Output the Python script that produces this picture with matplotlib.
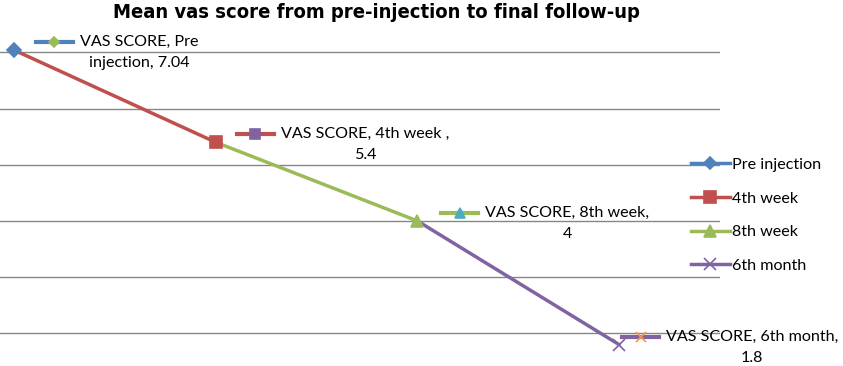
import numpy as np
import matplotlib
matplotlib.use("Agg")
import matplotlib.pyplot as plt
from matplotlib.lines import Line2D
from matplotlib.transforms import IdentityTransform

# ── DATA ──────────────────────────────────────────────────────────────────────
categories = ["Pre injection", "4th week", "8th week", "6th month"]
vas_scores = [7.04, 5.4, 4.0, 1.8]
label_line1 = ["VAS SCORE, Pre", "VAS SCORE, 4th week ,", "VAS SCORE, 8th week,", "VAS SCORE, 6th month,"]
label_line2 = ["injection, 7.04", "5.4", "4", "1.8"]
grid_levels = [2, 3, 4, 5, 6, 7]
title = "Mean vas score from pre-injection to final follow-up"

# ── STYLE ─────────────────────────────────────────────────────────────────────
colors = ["#4F81BD", "#C0504D", "#9BBB59", "#8064A2"]
markers = ["D", "s", "^", "x"]
msizes = [7.5, 9, 9, 9]
# Excel quirk: data-label keys show a different marker colour
key_marker_colors = ["#9BBB59", "#8064A2", "#4BACC6", "#F79646"]
key_dx = [22, 21, 24, 3]          # px from point to start of label key
LABEL_FONT = ["Lato", "DejaVu Sans"]

fig = plt.figure(figsize=(8.43, 3.66), dpi=100)
ax = fig.add_axes([0, 0, 720 / 843, 1])
xs = np.arange(len(categories))
ax.set_xlim(-0.069, 3.50)
ax.set_ylim(1.42, 7.93)
ax.set_yticks(grid_levels)
ax.yaxis.grid(True, color="#868686", lw=1)
ax.set_axisbelow(True)
ax.tick_params(length=0, labelleft=False, labelbottom=False)
for s in ax.spines.values():
    s.set_visible(False)
ax.patch.set_visible(False)

# segments: each series line ends at its own point
for k in range(1, len(xs)):
    ax.plot(xs[k - 1:k + 1], vas_scores[k - 1:k + 1], color=colors[k], lw=2.5,
            solid_capstyle="round", zorder=2)
for k in range(len(xs)):
    ax.plot(xs[k], vas_scores[k], marker=markers[k], color=colors[k], ms=msizes[k],
            mew=1.2, linestyle="none", zorder=3)

# ── DATA LABELS (with their little legend keys) ───────────────────────────────
renderer = fig.canvas.get_renderer()
for k in range(len(xs)):
    px, py = ax.transData.transform((xs[k], vas_scores[k]))
    kx0 = px + key_dx[k]
    ky = py + 8
    fig.add_artist(Line2D([kx0, kx0 + 37], [ky, ky], color=colors[k], lw=3,
                          transform=IdentityTransform(), zorder=4))
    fig.add_artist(Line2D([kx0 + 18.5], [ky], marker=markers[k], color=key_marker_colors[k],
                          ms=msizes[k] - 2, mew=1.2, transform=IdentityTransform(), zorder=5))
    t1 = fig.text(kx0 + 44, ky, label_line1[k], ha="left", va="center", fontsize=11.6,
                  family=LABEL_FONT, transform=IdentityTransform(), zorder=5)
    bb = t1.get_window_extent(renderer)
    fig.text((bb.x0 + bb.x1) / 2, ky - 21, label_line2[k], ha="center", va="center",
             fontsize=11.6, family=LABEL_FONT, transform=IdentityTransform(), zorder=5)

# ── LEGEND ────────────────────────────────────────────────────────────────────
handles = [Line2D([], [], color=colors[k], lw=2.5, marker=markers[k], ms=msizes[k] - 1, mew=1.2)
           for k in range(len(categories))]
leg = fig.legend(handles, categories, loc="center left", bbox_to_anchor=(691 / 843, 0.412),
                 frameon=False, borderpad=0, borderaxespad=0, handlelength=2.4,
                 handletextpad=0.15, labelspacing=1.2, prop={"family": LABEL_FONT, "size": 11.6})

fig.text(376 / 843, 1 - 13 / 366, title, ha="center", va="center", fontsize=14.5,
         fontweight="bold", fontstretch="condensed", family=["DejaVu Sans"])

plt.savefig("out.png", dpi=100)
